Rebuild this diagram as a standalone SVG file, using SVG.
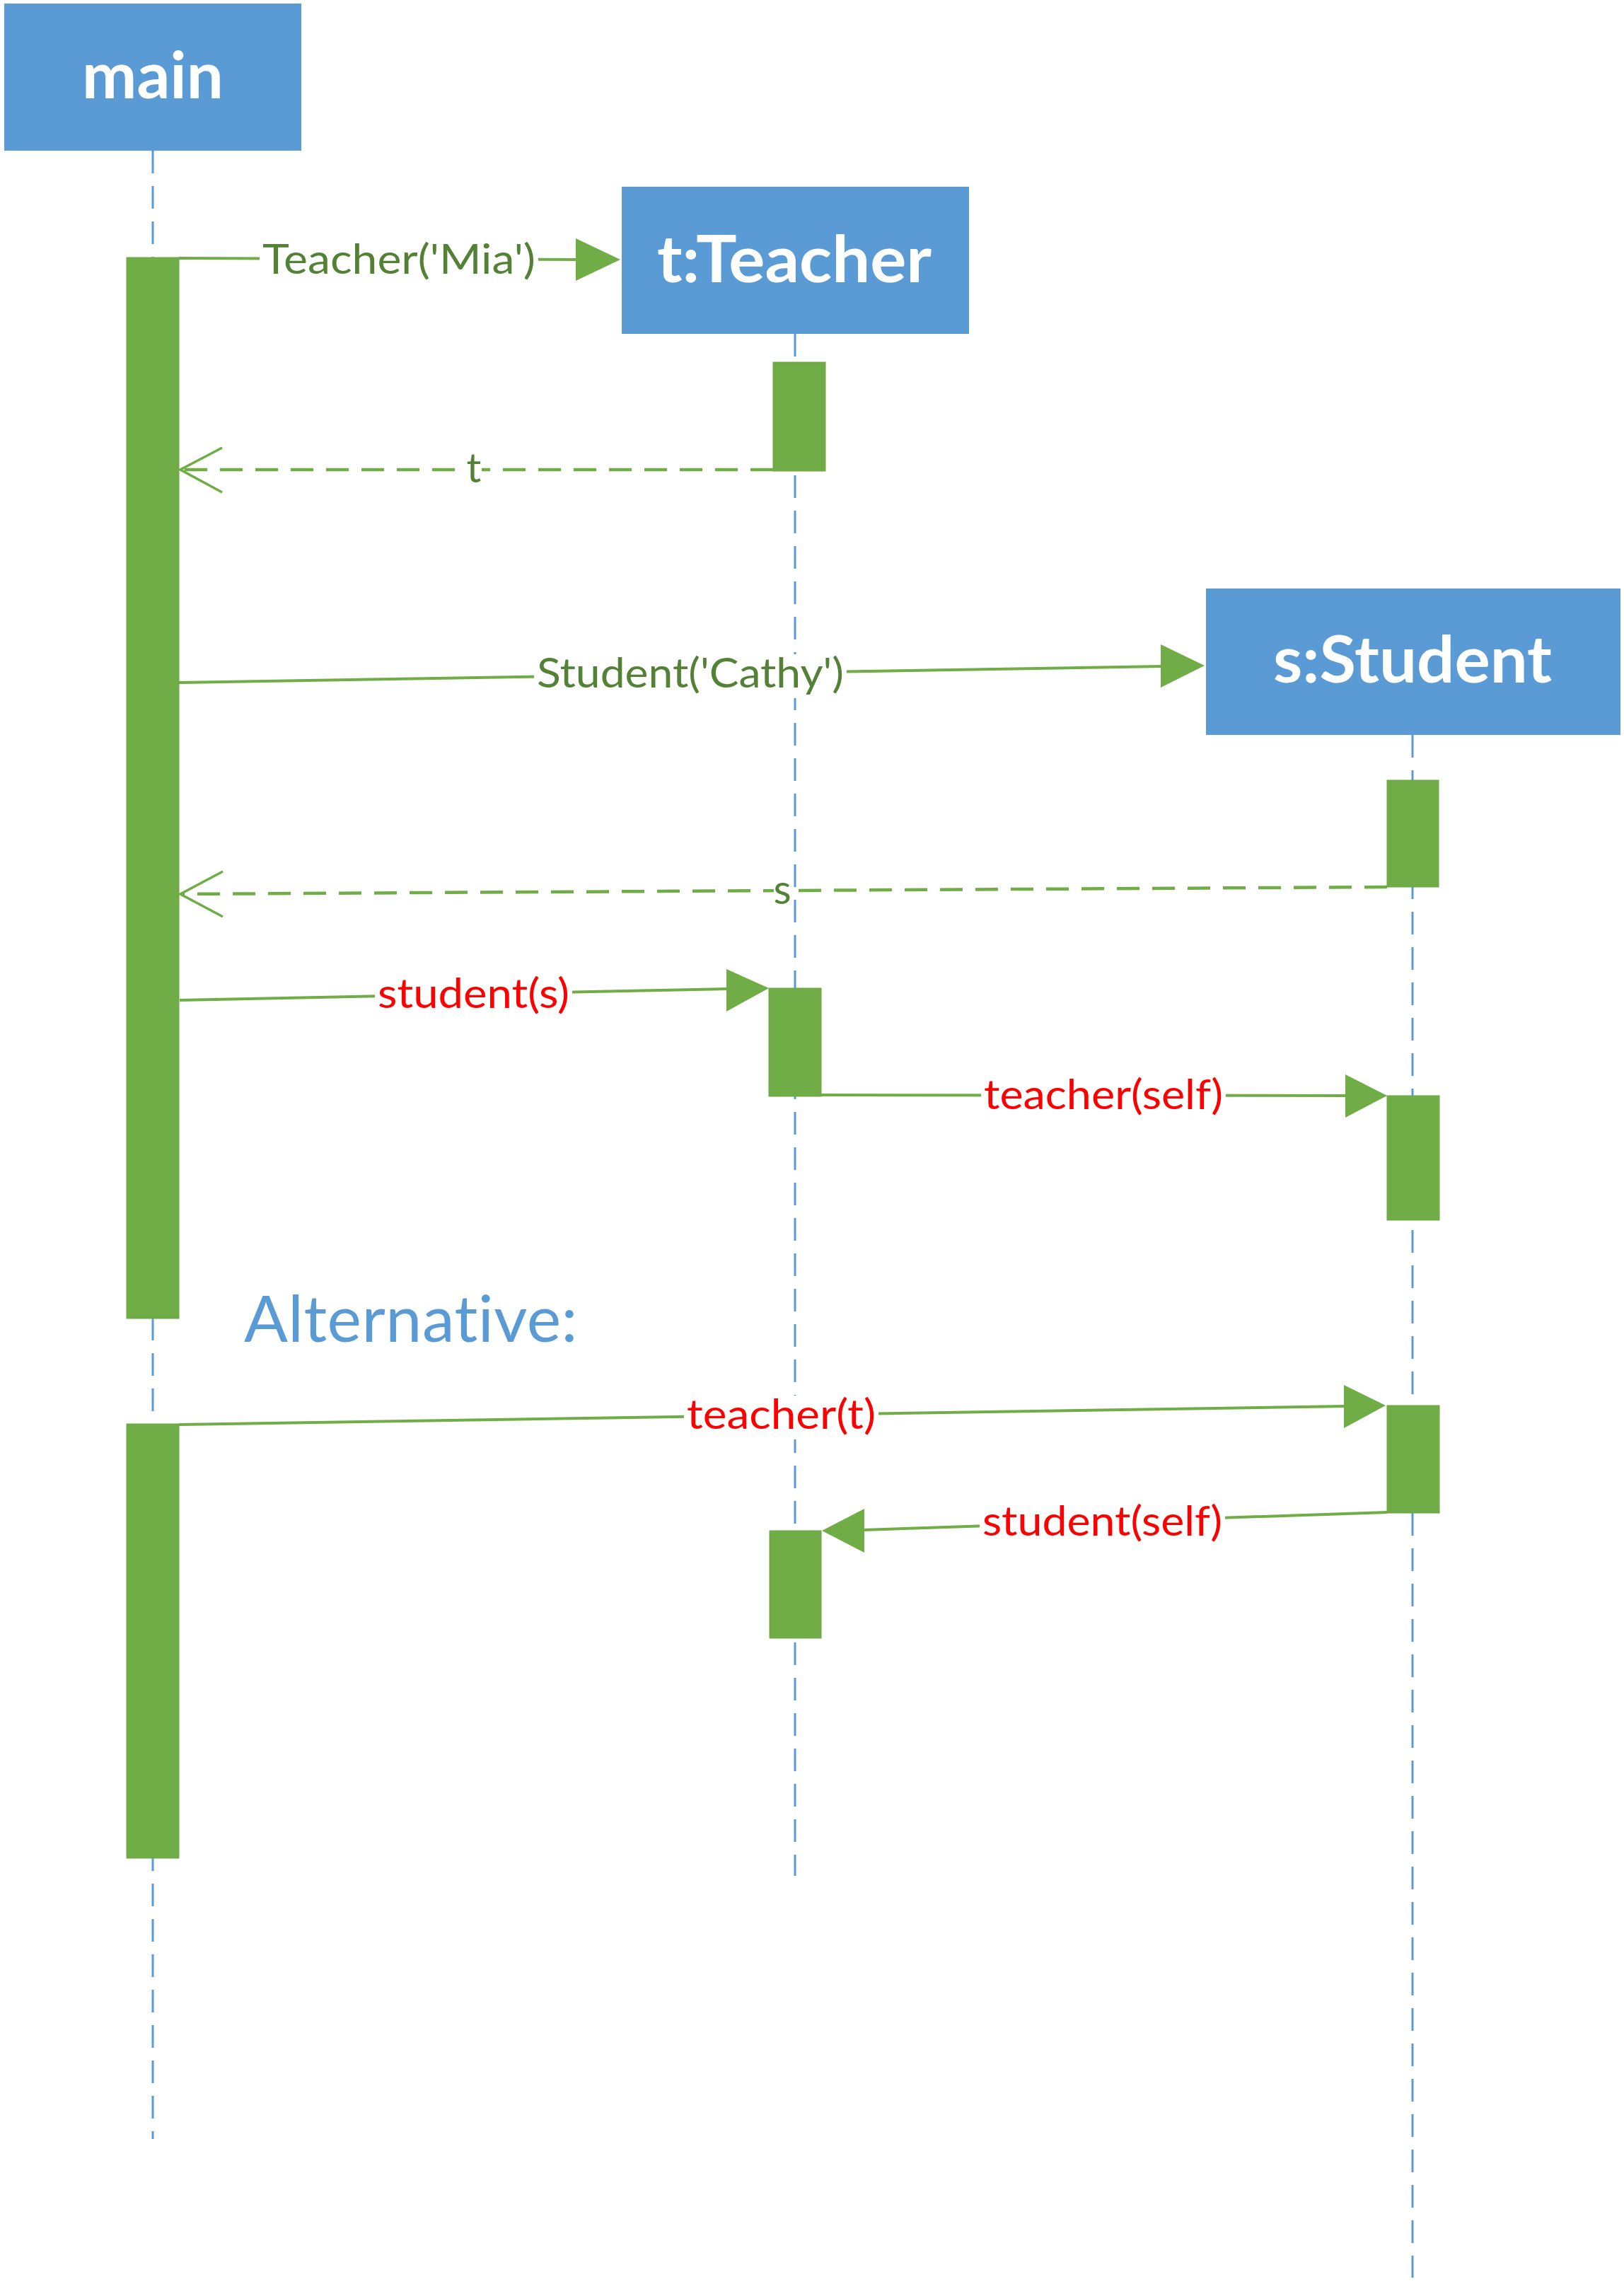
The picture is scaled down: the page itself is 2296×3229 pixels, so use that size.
<svg xmlns="http://www.w3.org/2000/svg" width="2296" height="3229" viewBox="0 0 2296 3229">
<style>
text{font-variant-ligatures:none;font-feature-settings:"liga" 0,"clig" 0}
.box{fill:#5B9BD5}
.title{font-family:Lato,"Open Sans",sans-serif;font-weight:bold;font-size:92px;fill:#FFFFFF}
.life{stroke:#5B9BD5;stroke-width:3;stroke-dasharray:32 18;fill:none}
.act{fill:#70AD47;stroke:#6CA642;stroke-width:1}
.msg{stroke:#70AD47;stroke-width:4;fill:none}
.ret{stroke:#70AD47;stroke-width:4.5;stroke-dasharray:32 18;fill:none}
.open{stroke:#70AD47;stroke-width:3.5;fill:none}
.head{fill:#70AD47}
.lbl{font-family:Lato,"Open Sans",sans-serif;font-size:58px}
.g{fill:#538135}
.r{fill:#FF0000}
.bg{fill:#FFFFFF}
.alt{font-family:Lato,"Open Sans",sans-serif;font-size:92px;fill:#5B9BD5;letter-spacing:0.5px}
</style>
<rect width="2296" height="3229" fill="#FFFFFF"/>
<g id="lifelines">
<line class="life" x1="216" y1="213" x2="216" y2="3024"/>
<line class="life" x1="1124" y1="472" x2="1124" y2="2652"/>
<line class="life" x1="1997" y1="1039" x2="1997" y2="3220"/>
</g>
<g id="main">
<rect class="box" x="6" y="5" width="420" height="208"/>
<text class="title" x="116" y="139" textLength="200" lengthAdjust="spacingAndGlyphs">main</text>
</g>
<g id="teacher">
<rect class="box" x="879" y="264" width="491" height="208"/>
<text class="title" x="929" y="399" textLength="388" lengthAdjust="spacingAndGlyphs">t:Teacher</text>
</g>
<g id="student">
<rect class="box" x="1705" y="832" width="586" height="207"/>
<text class="title" x="1800" y="965" textLength="394" lengthAdjust="spacingAndGlyphs">s:Student</text>
</g>
<g id="activations">
<rect id="act-main-1" class="act" x="179" y="364" width="74" height="1500"/>
<rect id="act-main-2" class="act" x="179" y="2013" width="74" height="614"/>
<rect id="act-teacher-1" class="act" x="1093" y="512" width="74" height="154"/>
<rect id="act-teacher-2" class="act" x="1087" y="1397" width="74" height="153"/>
<rect id="act-teacher-3" class="act" x="1088" y="2164" width="73" height="152"/>
<rect id="act-student-1" class="act" x="1961" y="1103" width="73" height="151"/>
<rect id="act-student-2" class="act" x="1961" y="1549" width="74" height="176"/>
<rect id="act-student-3" class="act" x="1961" y="1987" width="74" height="152"/>
</g>
<g id="connectors">
<g id="msg-teacher-mia">
<path class="msg" d="M253 365 L816 367"/>
<polygon class="head" points="877,367 814,337 814,397"/>
<rect class="bg" x="367" y="338" width="394" height="62"/>
<text class="lbl g" x="371" y="387" textLength="386" lengthAdjust="spacingAndGlyphs">Teacher('Mia')</text>
</g>
<g id="ret-t">
<path class="ret" d="M1093 664 L256 664"/>
<polyline class="open" points="314,633 255,664 314,696"/>
<rect class="bg" x="659" y="640" width="22" height="50"/>
<text class="lbl g" x="670" y="682" text-anchor="middle">t</text>
</g>
<g id="msg-student-cathy">
<path class="msg" d="M253 965 L1643 942"/>
<polygon class="head" points="1703,941 1641,911 1641,972"/>
<rect class="bg" x="755" y="925" width="442" height="62"/>
<text class="lbl g" x="759" y="972" textLength="434" lengthAdjust="spacingAndGlyphs">Student('Cathy')</text>
</g>
<g id="ret-s">
<path class="ret" d="M1961 1254 L256 1264"/>
<polyline class="open" points="315,1232 255,1264 315,1296"/>
<rect class="bg" x="1094" y="1236" width="24" height="50"/>
<text class="lbl g" x="1106" y="1278" text-anchor="middle">s</text>
</g>
<g id="msg-student-s">
<path class="msg" d="M254 1414 L1029 1398"/>
<polygon class="head" points="1087,1397 1027,1370 1027,1430"/>
<rect class="bg" x="530" y="1378" width="279" height="62"/>
<text class="lbl r" x="534" y="1425" textLength="271" lengthAdjust="spacingAndGlyphs">student(s)</text>
</g>
<g id="msg-teacher-self">
<path class="msg" d="M1161 1548 L1904 1549"/>
<polygon class="head" points="1961,1549 1902,1519 1902,1580"/>
<rect class="bg" x="1387" y="1521" width="346" height="62"/>
<text class="lbl r" x="1391" y="1568" textLength="338" lengthAdjust="spacingAndGlyphs">teacher(self)</text>
</g>
<g id="msg-teacher-t">
<path class="msg" d="M253 2014 L1902 1988"/>
<polygon class="head" points="1959,1987 1900,1958 1900,2019"/>
<rect class="bg" x="967" y="1973" width="275" height="62"/>
<text class="lbl r" x="971" y="2020" textLength="267" lengthAdjust="spacingAndGlyphs">teacher(t)</text>
</g>
<g id="msg-student-self">
<path class="msg" d="M1961 2138 L1220 2163"/>
<polygon class="head" points="1162,2164 1222,2133 1222,2195"/>
<rect class="bg" x="1385" y="2124" width="347" height="62"/>
<text class="lbl r" x="1389" y="2171" textLength="339" lengthAdjust="spacingAndGlyphs">student(self)</text>
</g>
</g>
<text id="alternative" class="alt" x="345" y="1897" textLength="472" lengthAdjust="spacingAndGlyphs">Alternative:</text>
</svg>
